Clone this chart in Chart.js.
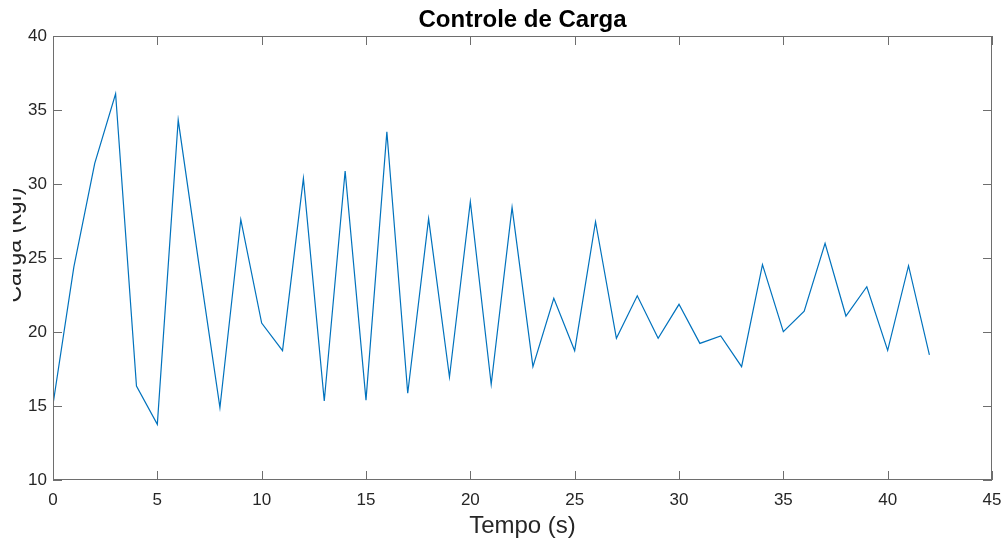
<!DOCTYPE html>
<html>
<head>
<meta charset="utf-8">
<title>Controle de Carga</title>
<script src="https://cdn.jsdelivr.net/npm/chart.js@4.4.1/dist/chart.umd.min.js"></script>
<style>
  html, body { margin: 0; padding: 0; background: #ffffff; }
  #wrap { width: 1003px; height: 544px; position: relative; }
  canvas { display: block; }
</style>
</head>
<body>
<div id="wrap"><canvas id="chart" width="1003" height="544"></canvas></div>
<script>
// Load (kgf) sampled once per second
const tempo = [0, 1, 2, 3, 4, 5, 6, 7, 8, 9, 10, 11, 12, 13, 14, 15, 16, 17, 18, 19, 20,
               21, 22, 23, 24, 25, 26, 27, 28, 29, 30, 31, 32, 33, 34, 35, 36, 37, 38, 39, 40, 41, 42];
const carga = [15.1, 24.4, 31.4, 36.1, 16.35, 13.76, 34.32, 24.5, 14.9, 27.6, 20.6,
               18.74, 30.38, 15.34, 30.88, 15.4, 33.53, 15.86, 27.66, 16.96, 28.8,
               16.47, 28.42, 17.66, 22.28, 18.74, 27.45, 19.57, 22.45, 19.57, 21.87,
               19.23, 19.73, 17.66, 24.55, 20.02, 21.4, 25.99, 21.08, 23.06, 18.76,
               24.48, 18.45];
const xTicks = [0, 5, 10, 15, 20, 25, 30, 35, 40, 45];
const yTicks = [10, 15, 20, 25, 30, 35, 40];

const titulo = 'Controle de Carga';
const rotuloX = 'Tempo (s)';
const rotuloY = 'Carga (kgf)';

const FONT = "'Liberation Sans', Arial, Helvetica, sans-serif";
const TEXT = '#262626';
const AXIS = '#6e6e6e';

// Box around the axes with inward ticks on all four sides
const boxPlugin = {
  id: 'box',
  afterDraw(chart) {
    const { ctx, chartArea: a, scales } = chart;
    const tl = 9;
    ctx.save();
    ctx.strokeStyle = AXIS;
    ctx.lineWidth = 1;
    ctx.strokeRect(a.left + 0.5, a.top + 0.5, a.right - a.left - 1, a.bottom - a.top - 1);
    ctx.beginPath();
    xTicks.forEach(v => {
      const px = Math.round(scales.x.getPixelForValue(v)) + 0.5;
      ctx.moveTo(px, a.bottom); ctx.lineTo(px, a.bottom - tl);
      ctx.moveTo(px, a.top); ctx.lineTo(px, a.top + tl);
    });
    yTicks.forEach(v => {
      const py = Math.round(scales.y.getPixelForValue(v)) + 0.5;
      ctx.moveTo(a.left, py); ctx.lineTo(a.left + tl, py);
      ctx.moveTo(a.right, py); ctx.lineTo(a.right - tl, py);
    });
    ctx.stroke();

    // Title centred over the axes
    ctx.fillStyle = '#000000';
    ctx.font = 'bold 24px ' + FONT;
    ctx.textAlign = 'center';
    ctx.textBaseline = 'alphabetic';
    ctx.fillText(titulo, (a.left + a.right) / 2, 27);

    // Y-axis label, partly cut off at the left edge of the figure
    ctx.beginPath();
    ctx.rect(13, 0, 40, chart.height);
    ctx.clip();
    ctx.translate(20.5, 245);
    ctx.rotate(-Math.PI / 2);
    ctx.fillStyle = TEXT;
    ctx.font = '23px ' + FONT;
    ctx.textAlign = 'center';
    ctx.fillText(rotuloY, 0, 0);
    ctx.restore();
  }
};

new Chart(document.getElementById('chart'), {
  type: 'line',
  data: {
    datasets: [{
      data: tempo.map((t, i) => ({ x: t, y: carga[i] })),
      borderColor: '#0072BD',
      borderWidth: 1.2,
      pointRadius: 0,
      tension: 0,
      fill: false
    }]
  },
  options: {
    responsive: false,
    animation: false,
    devicePixelRatio: 1,
    layout: { padding: { left: 0, top: 36, right: 11, bottom: 0 } },
    plugins: { legend: { display: false }, tooltip: { enabled: false } },
    scales: {
      x: {
        type: 'linear',
        min: 0, max: 45,
        afterBuildTicks(scale) { scale.ticks = xTicks.map(v => ({ value: v })); },
        afterFit(scale) { scale.height = 64; scale.paddingLeft = 0; scale.paddingRight = 0; },
        grid: { display: false, drawTicks: false },
        border: { display: false },
        ticks: { color: TEXT, font: { family: FONT, size: 17 }, padding: 10, maxRotation: 0, autoSkip: false },
        title: { display: true, text: rotuloX, color: TEXT, font: { family: FONT, size: 24 }, padding: { top: 0, bottom: 3 } }
      },
      y: {
        type: 'linear',
        min: 10, max: 40,
        afterBuildTicks(scale) { scale.ticks = yTicks.map(v => ({ value: v })); },
        afterFit(scale) { scale.width = 53; scale.paddingTop = 0; scale.paddingBottom = 0; },
        grid: { display: false, drawTicks: false },
        border: { display: false },
        ticks: { color: TEXT, font: { family: FONT, size: 17 }, padding: 6, autoSkip: false }
      }
    }
  },
  plugins: [boxPlugin]
});
</script>
</body>
</html>
